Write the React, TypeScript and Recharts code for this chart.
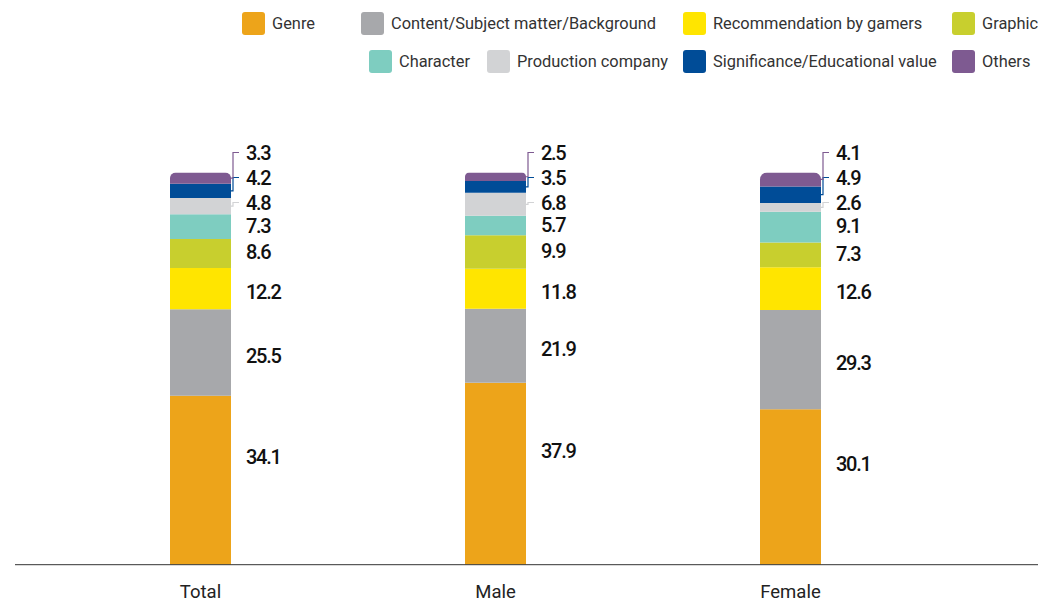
import React from 'react';
import { BarChart, Bar, XAxis, YAxis, Legend, LabelList } from 'recharts';

const categories = ['Total', 'Male', 'Female'];
const genre = [34.1, 37.9, 30.1];
const content = [25.5, 21.9, 29.3];
const recommendation = [12.2, 11.8, 12.6];
const graphic = [8.6, 9.9, 7.3];
const character = [7.3, 5.7, 9.1];
const production = [4.8, 6.8, 2.6];
const significance = [4.2, 3.5, 4.9];
const others = [3.3, 2.5, 4.1];

const seriesKeys = ['genre', 'content', 'recommendation', 'graphic', 'character', 'production', 'significance', 'others'];
const seriesNames = [
  'Genre',
  'Content/Subject matter/Background',
  'Recommendation by gamers',
  'Graphic',
  'Character',
  'Production company',
  'Significance/Educational value',
  'Others',
];
const seriesColors = ['#EDA41A', '#A7A8AB', '#FFE500', '#C8CF2E', '#7ECDC0', '#D2D3D5', '#004C97', '#7E5A91'];
const seriesValues = [genre, content, recommendation, graphic, character, production, significance, others];

const data = categories.map((c, i) => {
  const row: Record<string, any> = { category: c };
  seriesKeys.forEach((k, j) => {
    row[k] = seriesValues[j][i];
  });
  return row;
});

const W = 1038;
const H = 603;
const LEGEND_H = 80;
const XAXIS_H = 30;
const MARGIN = { top: 92.5, right: 0, bottom: 38.3 - XAXIS_H, left: 15 };
const PLOT_BOTTOM = H - MARGIN.bottom - XAXIS_H;
const FONT = 'Roboto, "Noto Sans", sans-serif';

const legendPos = [
  { x: 242, y: 12 },
  { x: 361, y: 12 },
  { x: 683, y: 12 },
  { x: 952, y: 12 },
  { x: 369, y: 50 },
  { x: 487, y: 50 },
  { x: 683, y: 50 },
  { x: 952, y: 50 },
];

const renderLegend = () => (
  <div style={{ position: 'relative', width: W, height: LEGEND_H, fontFamily: FONT }}>
    {seriesNames.map((n, i) => (
      <div key={n} style={{ position: 'absolute', left: legendPos[i].x, top: legendPos[i].y, height: 23, display: 'flex', alignItems: 'center', whiteSpace: 'nowrap' }}>
        <div style={{ width: 23, height: 23, borderRadius: 3, background: seriesColors[i] }} />
        <span style={{ marginLeft: 7, fontSize: 16.4, color: '#333' }}>{n}</span>
      </div>
    ))}
  </div>
);

const labelOffsets: Record<string, number> = { others: -20, significance: 5, production: 30 };

const stackedAbove = (si: number, ci: number) => {
  let s = 0;
  for (let j = si + 1; j < seriesValues.length; j++) s += seriesValues[j][ci];
  return s;
};

const makeLabel = (si: number) => (props: any) => {
  const { x, y, width, height, index } = props;
  const value = seriesValues[si][index];
  const h = Math.abs(height);
  const right = x + width;
  const cy = y + h / 2;
  const key = seriesKeys[si];
  const color = seriesColors[si];
  const off = labelOffsets[key];
  let ly = cy + (h > 35 ? 3.5 : -1);
  let line: any = null;
  if (off !== undefined) {
    const ppu = h / value;
    const top = y - stackedAbove(si, index) * ppu;
    ly = top + off;
    line = (
      <polyline
        points={`${right - 1},${cy} ${right + 2},${cy} ${right + 2},${ly} ${right + 8},${ly}`}
        fill="none"
        stroke={color}
        strokeWidth={1.2}
      />
    );
  }
  return (
    <g>
      {line}
      <text
        x={right + 15}
        y={ly}
        dominantBaseline="central"
        fontFamily={FONT}
        fontSize={20}
        fontWeight={500}
        letterSpacing={-1.3}
        fill="#111"
      >
        {value.toFixed(1)}
      </text>
    </g>
  );
};

const GenreShape = (props: any) => {
  const { x, y, width, fill } = props;
  return <rect x={x} y={y} width={width} height={Math.max(0, PLOT_BOTTOM - y)} fill={fill} />;
};

export default function App() {
  return (
    <div style={{ position: 'absolute', left: 0, top: 0, width: W, height: H, background: '#fff' }}>
      <BarChart width={W} height={H} data={data} margin={MARGIN} barSize={61}>
        <Legend verticalAlign="top" align="left" content={renderLegend} wrapperStyle={{ top: 0, left: 0, width: W, height: LEGEND_H }} />
        <XAxis
          dataKey="category"
          height={XAXIS_H}
          padding={{ left: 38, right: 100 }}
          tickLine={false}
          axisLine={{ stroke: '#333', strokeWidth: 1 }}
          tick={{ fontSize: 18.5, fill: '#222', fontFamily: FONT }}
          tickMargin={14}
        />
        <YAxis type="number" hide domain={[-15.8, 100]} allowDataOverflow />
        {seriesKeys.map((k, si) => (
          <Bar
            key={k}
            dataKey={k}
            name={seriesNames[si]}
            stackId="a"
            fill={seriesColors[si]}
            isAnimationActive={false}
            shape={k === 'genre' ? GenreShape : undefined}
            radius={k === 'others' ? [8, 8, 0, 0] : undefined}
          >
            <LabelList dataKey={k} content={makeLabel(si)} />
          </Bar>
        ))}
      </BarChart>
    </div>
  );
}
